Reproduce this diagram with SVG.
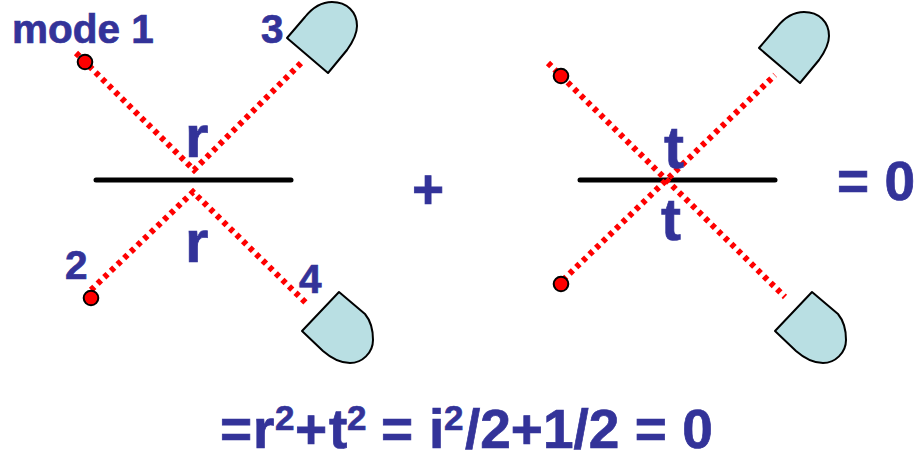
<svg xmlns="http://www.w3.org/2000/svg" width="917" height="460" viewBox="0 0 917 460">
<style>
text{font-family:"Liberation Sans",Arial,sans-serif;font-weight:bold;fill:#333399;stroke:#333399;stroke-width:.7}
.l{font-size:40.5px}.b{font-size:60px}.e{font-size:55px}.s{font-size:35px}
.beam{fill:none;stroke:#ff0000;stroke-width:6;stroke-dasharray:4.6 4.6}
.mirror{stroke:#000;stroke-width:5;stroke-linecap:round}
.det{fill:#b9dfe3;stroke:#000;stroke-width:2;stroke-linejoin:round}
.src{fill:#ff0000;stroke:#000;stroke-width:2}
</style>
<defs>
<path id="dt" d="M287,38 L305,17 C313,7 321,2 332,2 C347,2 357,12 357,26 C357,34 352,43 347,50 L328,73 Z"/>
<path id="db" d="M302,331 L339,292 L365,314 C370,320 373,330 373,340 C373,353 362,363 350,363 C340,363 331,358 323,351 Z"/>
</defs>
<g id="mirror-left"><line class="mirror" x1="96" y1="180" x2="291" y2="180"/></g>
<g id="mirror-right"><line class="mirror" x1="580" y1="180" x2="775" y2="180"/></g>
<g id="connectors">
<path class="beam" d="M76,53 L194,170 L302,62"/>
<path class="beam" d="M91,290 L193,192 L307,304"/>
<path class="beam" d="M548,63 L785,297"/>
<path class="beam" d="M563,280 L775,75"/>
</g>
<g id="source-1"><circle class="src" cx="85" cy="62" r="7.3"/></g>
<g id="source-2"><circle class="src" cx="91" cy="298" r="7.3"/></g>
<g id="source-3"><circle class="src" cx="561" cy="76" r="7.3"/></g>
<g id="source-4"><circle class="src" cx="561" cy="284" r="7.3"/></g>
<g id="detector-3"><use href="#dt" class="det"/></g>
<g id="detector-4"><use href="#db" class="det"/></g>
<g id="detector-5"><use href="#dt" class="det" transform="translate(472,10)"/></g>
<g id="detector-6"><use href="#db" class="det" transform="translate(473,0)"/></g>
<g id="labels">
<text class="l" x="12" y="43">mode 1</text>
<text class="l" x="261" y="43">3</text>
<text class="l" x="65" y="279">2</text>
<text class="l" x="299" y="293">4</text>
<text class="b" x="185" y="157">r</text>
<text class="b" x="185" y="262">r</text>
<text class="b" x="664" y="168">t</text>
<text class="b" x="661" y="240">t</text>
<text class="e" x="412" y="208">+</text>
<text class="e" x="837" y="200">= 0</text>
<text class="e" x="220" y="448">=<tspan x="253">r</tspan><tspan class="s" x="275" y="430">2</tspan><tspan x="295" y="448">+</tspan><tspan x="329">t</tspan><tspan class="s" x="347" y="430">2</tspan><tspan x="381" y="448">=</tspan><tspan x="429">i</tspan><tspan class="s" x="444" y="430">2</tspan><tspan x="465" y="448">/2+1/2 = 0</tspan></text>
</g>
</svg>
